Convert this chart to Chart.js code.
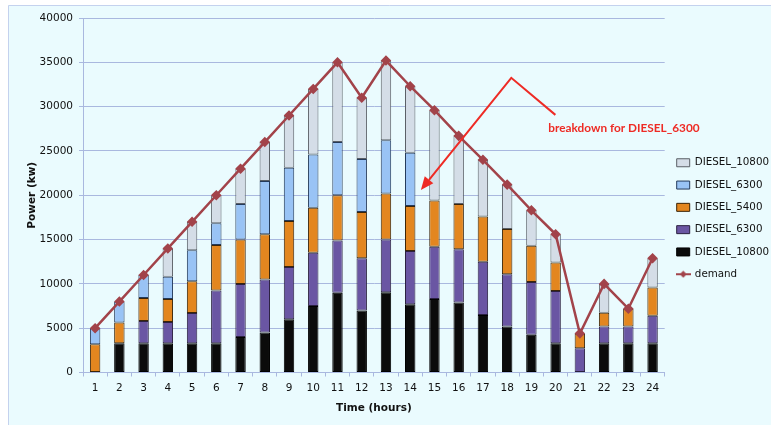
<!DOCTYPE html>
<html>
<head>
<meta charset="utf-8">
<script src="https://cdn.jsdelivr.net/npm/chart.js@4/dist/chart.umd.min.js"></script>
<style>
  html, body { margin: 0; padding: 0; background: #fff; }
  #wrap { width: 771px; height: 425px; }
</style>
</head>
<body>
<div id="wrap"><canvas id="myChart" width="771" height="425"></canvas></div>
<script>
const hours = ['1','2','3','4','5','6','7','8','9','10','11','12','13','14','15','16','17','18','19','20','21','22','23','24']

// stacked from bottom up
const diesel10800a = [0, 3300, 3300, 3300, 3300, 3300, 4000, 4500, 6000, 7500, 9000, 7000, 9050, 7700, 8300, 7900, 6500, 5200, 4250, 3300, 0, 3300, 3300, 3300]
const diesel6300a = [0, 0, 2500, 2400, 3400, 5950, 6000, 6000, 5900, 6000, 5900, 5900, 5950, 6000, 5900, 6000, 6000, 5900, 5950, 5900, 2750, 1900, 1900, 3100]
const diesel5400 = [3200, 2350, 2600, 2600, 3600, 5150, 5000, 5100, 5200, 5100, 5100, 5200, 5200, 5100, 5200, 5100, 5100, 5100, 4100, 3200, 1650, 1550, 2000, 3200]
const diesel6300b = [1800, 2350, 2600, 2500, 3500, 2450, 4000, 6000, 6000, 6000, 6000, 6000, 6000, 6000, 0, 0, 0, 0, 0, 0, 0, 0, 0, 0]
const diesel10800b = [0, 0, 0, 3200, 3200, 3150, 4000, 4400, 5900, 7400, 9000, 6900, 9000, 7500, 10200, 7700, 6400, 5000, 4000, 3200, 0, 3250, 0, 3300]
const demand = [5000, 8000, 11000, 14000, 17000, 20000, 23000, 26000, 29000, 32000, 35000, 31000, 35200, 32300, 29600, 26700, 24000, 21200, 18300, 15600, 4400, 10000, 7200, 12900]

const yTicks = [0, 5000, 10000, 15000, 20000, 25000, 30000, 35000, 40000]

const note = 'breakdown for DIESEL_6300'

const gridColor = '#a9b8df'
const textFont = 'DejaVu Sans'

// legend marker for the demand line
const demandMarker = document.createElement('canvas')
demandMarker.width = 15
demandMarker.height = 8
{
    const c = demandMarker.getContext('2d')
    c.strokeStyle = '#a2434a'
    c.lineWidth = 2
    c.beginPath(); c.moveTo(0, 4); c.lineTo(15, 4); c.stroke()
    c.fillStyle = '#a2434a'
    c.beginPath(); c.moveTo(7.5, 0.5); c.lineTo(11, 4); c.lineTo(7.5, 7.5); c.lineTo(4, 4); c.closePath(); c.fill()
}

const backgroundPlugin = {
    id: 'frame',
    beforeDraw: (chart) => {
        const ctx = chart.ctx
        ctx.save()
        ctx.fillStyle = '#ffffff'
        ctx.fillRect(0, 0, chart.width, chart.height)
        ctx.fillStyle = '#eafbfe'
        ctx.fillRect(8, 5, chart.width - 8, chart.height - 5)
        ctx.strokeStyle = '#c4d2ee'
        ctx.lineWidth = 1
        ctx.beginPath()
        ctx.moveTo(8.5, chart.height)
        ctx.lineTo(8.5, 5.5)
        ctx.lineTo(chart.width, 5.5)
        ctx.stroke()
        ctx.restore()
    }
}

// red arrow + label, placed in data coordinates
const arrowPlugin = {
    id: 'arrowNote',
    afterDatasetsDraw: (chart) => {
        const ctx = chart.ctx
        const x = chart.scales.x, y = chart.scales.y
        const tip = [x.getPixelForValue(13.44), y.getPixelForValue(20600)]
        const apex = [x.getPixelForValue(17.17), y.getPixelForValue(33250)]
        const end = [x.getPixelForValue(18.99), y.getPixelForValue(29070)]
        ctx.save()
        ctx.strokeStyle = '#ee2b25'
        ctx.fillStyle = '#ee2b25'
        ctx.lineWidth = 2
        const ang = Math.atan2(tip[1] - apex[1], tip[0] - apex[0])
        const headLen = 13, headW = 5.5
        const base = [tip[0] - headLen * Math.cos(ang), tip[1] - headLen * Math.sin(ang)]
        ctx.beginPath()
        ctx.moveTo(base[0], base[1])
        ctx.lineTo(apex[0], apex[1])
        ctx.lineTo(end[0], end[1])
        ctx.stroke()
        ctx.beginPath()
        ctx.moveTo(tip[0], tip[1])
        ctx.lineTo(base[0] + headW * Math.sin(ang), base[1] - headW * Math.cos(ang))
        ctx.lineTo(base[0] - headW * Math.sin(ang), base[1] + headW * Math.cos(ang))
        ctx.closePath()
        ctx.fill()
        ctx.font = 'bold 11.8px Lato'
        ctx.textBaseline = 'middle'
        ctx.fillText(note, x.getPixelForValue(18.7), y.getPixelForValue(27600))
        ctx.restore()
    }
}

const barSet = (label, data, color, border) => ({
    type: 'bar',
    label: label,
    data: data,
    backgroundColor: color,
    borderColor: border,
    borderWidth: 1,
    borderSkipped: false,
    stack: 'gen',
    order: 1,
    categoryPercentage: 1.0,
    barPercentage: 0.43
})

const chart = new Chart('myChart', {
    data: {
        labels: hours,
        datasets: [
            barSet('DIESEL_10800', diesel10800a, '#0b0b0b', '#000000'),
            barSet('DIESEL_6300', diesel6300a, '#6a56a3', '#2b2140'),
            barSet('DIESEL_5400', diesel5400, '#e3861f', '#3a2408'),
            barSet('DIESEL_6300', diesel6300b, '#99c3f5', '#243a5a'),
            barSet('DIESEL_10800', diesel10800b, '#d4dde7', '#5a5f66'),
            {
                type: 'line',
                label: 'demand',
                data: demand,
                borderColor: '#a2434a',
                backgroundColor: '#a2434a',
                borderWidth: 2.5,
                pointStyle: 'rectRot',
                pointRadius: 3.5,
                pointHoverRadius: 3.5,
                stack: 'demand',
                order: 0,
                tension: 0
            }
        ]
    },
    options: {
        responsive: false,
        animation: false,
        devicePixelRatio: 1,
        layout: { padding: { left: 22, top: 18, right: -8, bottom: 6 } },
        plugins: {
            tooltip: { enabled: false },
            legend: {
                position: 'right',
                reverse: true,
                labels: {
                    usePointStyle: true,
                    pointStyleWidth: 13,
                    boxHeight: 8,
                    padding: 12,
                    color: '#111',
                    font: { family: textFont, size: 10.3 },
                    generateLabels: (c) => {
                        const items = Chart.defaults.plugins.legend.labels.generateLabels(c)
                        items.forEach(it => {
                            if (it.text === 'demand') { it.pointStyle = demandMarker; it.lineWidth = 0 }
                            else { it.pointStyle = 'rect'; it.lineWidth = 1 }
                        })
                        return items
                    }
                }
            }
        },
        scales: {
            x: {
                stacked: true,
                offset: true,
                grid: { display: true, drawOnChartArea: false, drawTicks: true, tickLength: 4, color: gridColor, offset: true },
                border: { color: gridColor },
                ticks: { color: '#111', font: { family: textFont, size: 10.5 }, padding: 5 },
                title: { display: true, text: 'Time (hours)', color: '#111', font: { family: textFont, size: 10.5, weight: 'bold' } },
                afterFit: (s) => { s.height = 46.5 }
            },
            y: {
                stacked: true,
                min: 0,
                max: 40000,
                afterBuildTicks: (s) => { s.ticks = yTicks.map(v => ({ value: v })) },
                grid: { color: gridColor, tickLength: 4 },
                border: { color: gridColor },
                ticks: { color: '#111', font: { family: textFont, size: 10.5 }, padding: 6, callback: (v) => String(v) },
                title: { display: true, text: 'Power (kw)', color: '#111', font: { family: textFont, size: 10.5, weight: 'bold' } },
                afterFit: (s) => { s.width = 61 }
            }
        }
    },
    plugins: [backgroundPlugin, arrowPlugin]
})
</script>
</body>
</html>
